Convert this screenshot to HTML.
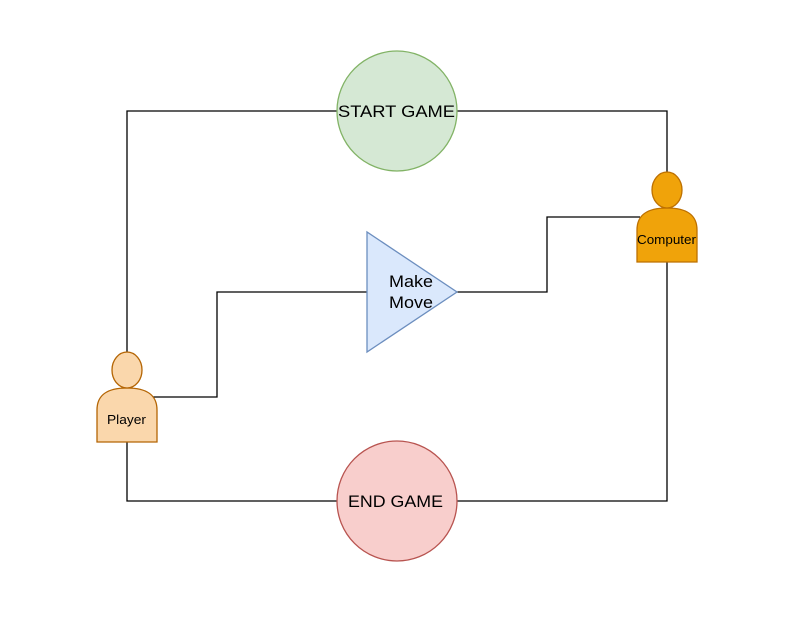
<!DOCTYPE html>
<html><head><meta charset="utf-8"><style>html,body{margin:0;padding:0;background:#fff}svg{display:block}</style></head>
<body>
<svg width="787" height="631" viewBox="0 0 787 631" xmlns="http://www.w3.org/2000/svg" font-family="Liberation Sans, Arial, sans-serif">
<g fill="none" stroke="#000" stroke-width="1.3">
<polyline points="127,352 127,111 337,111"/>
<polyline points="457,111 667,111 667,172"/>
<polyline points="150,397 217,397 217,292 367,292"/>
<polyline points="457,292 547,292 547,217 640,217"/>
<polyline points="667,262 667,501 457,501"/>
<polyline points="127,442 127,501 337,501"/>
</g>
<circle cx="397" cy="111" r="60" fill="#d5e8d4" stroke="#82b366" stroke-width="1.3"/>
<text x="338" y="117" font-size="17" textLength="117" lengthAdjust="spacingAndGlyphs">START GAME</text>
<circle cx="397" cy="501" r="60" fill="#f8cecc" stroke="#b85450" stroke-width="1.3"/>
<text x="348" y="507" font-size="17" textLength="95" lengthAdjust="spacingAndGlyphs">END GAME</text>
<polygon points="367,232 367,352 457,292" fill="#dae8fc" stroke="#6c8ebf" stroke-width="1.3"/>
<text x="389" y="287" font-size="17" textLength="44" lengthAdjust="spacingAndGlyphs">Make</text>
<text x="389" y="308" font-size="17" textLength="44" lengthAdjust="spacingAndGlyphs">Move</text>
<g fill="#fad7ac" stroke="#b46504" stroke-width="1.3">
<path d="M97,442 L97,410 C97,393 110,388 127,388 C144,388 157,393 157,410 L157,442 Z"/>
<ellipse cx="127" cy="370" rx="15" ry="18"/>
</g>
<text x="107" y="424" font-size="12.5" textLength="39" lengthAdjust="spacingAndGlyphs">Player</text>
<g fill="#f0a30a" stroke="#bd7000" stroke-width="1.3">
<path d="M637,262 L637,230 C637,213 650,208 667,208 C684,208 697,213 697,230 L697,262 Z"/>
<ellipse cx="667" cy="190" rx="15" ry="18"/>
</g>
<text x="637" y="244" font-size="12.5" textLength="59" lengthAdjust="spacingAndGlyphs">Computer</text>
</svg>
</body></html>
